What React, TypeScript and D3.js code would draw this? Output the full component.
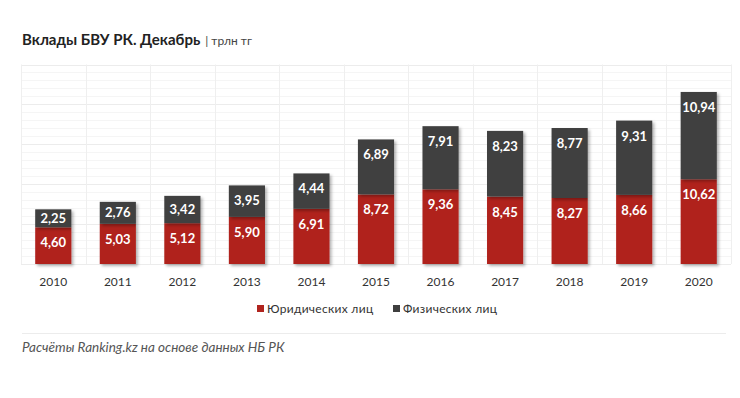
import { useEffect, useRef } from 'react';
import * as d3 from 'd3';

const years = ['2010', '2011', '2012', '2013', '2014', '2015', '2016', '2017', '2018', '2019', '2020'];
const legalValues = [4.6, 5.03, 5.12, 5.9, 6.91, 8.72, 9.36, 8.45, 8.27, 8.66, 10.62];
const personValues = [2.25, 2.76, 3.42, 3.95, 4.44, 6.89, 7.91, 8.23, 8.77, 9.31, 10.94];
const seriesNames = ['Юридических лиц', 'Физических лиц'];

const RED = '#b0241e';
const DARK = '#3f3f3f';
const FONT = 'Lato, "Open Sans", sans-serif';

const fmt = (v: number) => v.toFixed(2).replace('.', ',');

const App = () => {
  const svgRef = useRef<SVGSVGElement>(null);

  useEffect(() => {
    const svg = d3.select(svgRef.current);
    svg.selectAll('*').remove();
    const width = 740;
    const height = 398;
    const left = 21;
    const right = 731;
    const base = 264;

    svg.append('rect').attr('width', width).attr('height', height).attr('fill', '#fff');

    const defs = svg.append('defs');
    const f = defs.append('filter').attr('id', 'shadow').attr('x', '-20%').attr('y', '-20%').attr('width', '150%').attr('height', '150%');
    f.append('feDropShadow').attr('dx', 2).attr('dy', 2).attr('stdDeviation', 1.5).attr('flood-color', '#000').attr('flood-opacity', 0.3);

    const x = d3.scaleBand().domain(years).range([left, right]).paddingInner(0.44).paddingOuter(0.22);
    const grid = d3.scaleBand().domain(years).range([left, right]);
    const y = d3.scaleLinear().domain([0, 25]).range([base, base - 25 * 7.98]);

    // faint grid
    const g = svg.append('g');
    g.selectAll('line.h')
      .data(d3.range(0, 26, 1))
      .enter()
      .append('line')
      .attr('x1', left)
      .attr('x2', right)
      .attr('y1', (d) => Math.round(y(d)) + 0.5)
      .attr('y2', (d) => Math.round(y(d)) + 0.5)
      .attr('stroke', (d) => (d % 5 === 0 ? '#ececec' : '#f5f5f5'))
      .attr('stroke-width', 1);
    g.selectAll('line.v')
      .data(years.map((yr) => grid(yr)!).concat([right]))
      .enter()
      .append('line')
      .attr('x1', (d) => Math.round(d) + 0.5)
      .attr('x2', (d) => Math.round(d) + 0.5)
      .attr('y1', y(25))
      .attr('y2', base)
      .attr('stroke', '#efefef');

    const stacked = years.map((yr, i) => ({ year: yr, a: legalValues[i], b: personValues[i] }));
    const stack = d3.stack<any>().keys(['a', 'b'])(stacked);
    const colors = [RED, DARK];

    stack.forEach((layer, li) => {
      const lg = svg.append('g').attr('filter', 'url(#shadow)');
      lg.selectAll('rect')
        .data(layer)
        .enter()
        .append('rect')
        .attr('x', (d: any) => x(d.data.year)!)
        .attr('width', x.bandwidth())
        .attr('y', (d) => y(d[1]))
        .attr('height', (d) => y(d[0]) - y(d[1]))
        .attr('fill', colors[li]);
    });

    stack.forEach((layer) => {
      svg
        .append('g')
        .selectAll('text')
        .data(layer)
        .enter()
        .append('text')
        .attr('x', (d: any) => x(d.data.year)! + x.bandwidth() / 2)
        .attr('y', (d) => {
          const h = y(d[0]) - y(d[1]);
          return y(d[1]) + Math.min(15.5, h / 2);
        })
        .attr('dy', '0.35em')
        .attr('text-anchor', 'middle')
        .attr('fill', '#fff')
        .attr('font-family', FONT)
        .attr('font-weight', 'bold')
        .attr('font-size', 13)
        .text((d) => fmt(d[1] - d[0]));
    });

    // x axis labels
    svg
      .append('g')
      .selectAll('text')
      .data(years)
      .enter()
      .append('text')
      .attr('x', (d) => x(d)! + x.bandwidth() / 2)
      .attr('y', 286)
      .attr('text-anchor', 'middle')
      .attr('fill', '#333')
      .attr('font-family', FONT)
      .attr('font-size', 12)
      .text((d) => d);

    // legend
    const legendX = [257, 393];
    seriesNames.forEach((name, i) => {
      svg.append('rect').attr('x', legendX[i]).attr('y', 305).attr('width', 7).attr('height', 7).attr('fill', colors[i]);
      svg
        .append('text')
        .attr('x', legendX[i] + 10)
        .attr('y', 313)
        .attr('fill', '#333')
        .attr('font-family', FONT)
        .attr('font-size', 12)
        .attr('letter-spacing', 0.3)
        .text(name);
    });

    // title
    const title = svg.append('text').attr('x', 22).attr('y', 45).attr('font-family', FONT);
    title.append('tspan').attr('font-weight', 'bold').attr('font-size', 15).attr('fill', '#222').text('Вклады БВУ РК. Декабрь');
    title.append('tspan').attr('font-size', 12).attr('fill', '#444').attr('dx', 5).text('| трлн тг');

    // footer
    svg.append('line').attr('x1', 22).attr('x2', 726).attr('y1', 333.5).attr('y2', 333.5).attr('stroke', '#ececec');
    svg
      .append('text')
      .attr('x', 22)
      .attr('y', 352)
      .attr('font-family', FONT)
      .attr('font-style', 'italic')
      .attr('font-size', 13.5)
      .attr('fill', '#555')
      .text('Расчёты Ranking.kz на основе данных НБ РК');
  }, []);

  return <svg ref={svgRef} width="740" height="398" style={{ position: 'absolute', left: 0, top: 0 }}></svg>;
};

export default App;
